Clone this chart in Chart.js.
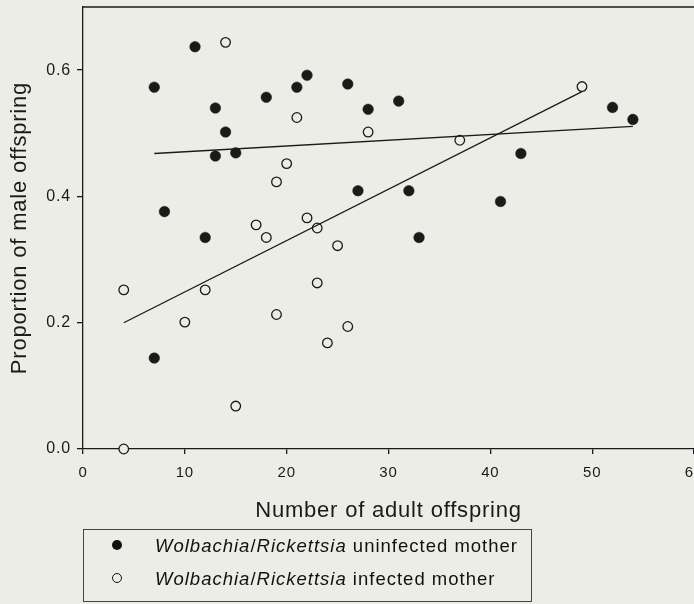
<!DOCTYPE html>
<html>
<head>
<meta charset="utf-8">
<script src="https://cdn.jsdelivr.net/npm/chart.js@4"></script>
<style>
  body { margin: 0; background: #ededE7; font-family: "Liberation Sans", Arial, sans-serif; }
  #wrap { position: relative; width: 694px; height: 604px; }
  #legend {
    position: absolute; left: 83px; top: 529px; width: 449px; height: 73px;
    border: 1px solid #444; box-sizing: border-box; font-size: 18.5px; letter-spacing: 1px; color: #111;
  }
  .row { position: absolute; left: 0; height: 22px; line-height: 22px; white-space: nowrap; }
  .mk { position: absolute; left: 28px; top: 5px; width: 10px; height: 10px; border-radius: 50%; box-sizing: border-box; }
  .row span.txt { position: absolute; left: 71px; }
</style>
</head>
<body>
<div id="wrap">
  <canvas id="chart" width="694" height="604"></canvas>
  <div id="legend">
    <div class="row" style="top:5px"><div class="mk" style="background:#111"></div><span class="txt"><i>Wolbachia</i>/<i>Rickettsia</i> uninfected mother</span></div>
    <div class="row" style="top:38px"><div class="mk" style="border:1.3px solid #111"></div><span class="txt"><i>Wolbachia</i>/<i>Rickettsia</i> infected mother</span></div>
  </div>
</div>
<script>
// uninfected mothers (filled dots)
const uninfX = [7, 11, 13, 14, 13, 15, 8, 12, 18, 21, 22, 26, 28, 31, 27, 32, 33, 43, 41, 52, 54, 7];
const uninfY = [0.573, 0.637, 0.540, 0.502, 0.464, 0.469, 0.376, 0.335, 0.557, 0.573, 0.592, 0.578,
                0.538, 0.551, 0.409, 0.409, 0.335, 0.468, 0.392, 0.541, 0.522, 0.144];
// infected mothers (open dots)
const infX = [14, 21, 20, 19, 17, 18, 22, 23, 25, 28, 37, 49, 4, 12, 10, 19, 23, 26, 24, 15, 4];
const infY = [0.644, 0.525, 0.452, 0.423, 0.355, 0.335, 0.366, 0.350, 0.322, 0.502, 0.489, 0.574,
              0.252, 0.252, 0.201, 0.213, 0.263, 0.194, 0.168, 0.068, 0.0];
// regression lines (end points)
const fitUninfX = [7, 54];
const fitUninfY = [0.468, 0.511];
const fitInfX = [4, 49];
const fitInfY = [0.200, 0.566];

const xTicks = [0, 10, 20, 30, 40, 50, 60];
const yTicks = [0.0, 0.2, 0.4, 0.6];

const bg = '#ededE7';
const ink = '#1a1a1a';

function pts(xs, ys) {
  return xs.map(function(x, i) { return {x: x, y: ys[i]} });
}

const frame = {
  id: 'frame',
  beforeUpdate: function(chart) {
    chart.ctx.letterSpacing = '0.8px';
  },
  beforeDraw: function(chart) {
    let c = chart.ctx;
    c.letterSpacing = '0.8px';
    c.save();
    c.fillStyle = bg;
    c.fillRect(0, 0, chart.width, chart.height);
    c.restore();
  },
  afterDraw: function(chart) {
    let c = chart.ctx, a = chart.chartArea;
    c.save();
    c.strokeStyle = ink;
    c.lineWidth = 1.3;
    c.beginPath();
    c.moveTo(a.left, a.top);
    c.lineTo(chart.width, a.top);
    c.stroke();
    c.restore();
  }
};

const ctx = document.getElementById('chart').getContext('2d');
new Chart(ctx, {
  type: 'scatter',
  data: {
    datasets: [
      {
        type: 'line', data: pts(fitUninfX, fitUninfY), borderColor: ink, borderWidth: 1.3,
        pointRadius: 0, fill: false, clip: false
      },
      {
        type: 'line', data: pts(fitInfX, fitInfY), borderColor: ink, borderWidth: 1.3,
        pointRadius: 0, fill: false, clip: false
      },
      {
        data: pts(uninfX, uninfY), pointRadius: 5.3, pointBackgroundColor: ink,
        pointBorderColor: ink, pointBorderWidth: 0.5, clip: false
      },
      {
        data: pts(infX, infY), pointRadius: 4.8, pointBackgroundColor: bg,
        pointBorderColor: ink, pointBorderWidth: 1.3, clip: false
      }
    ]
  },
  options: {
    responsive: false,
    animation: false,
    events: [],
    layout: { autoPadding: false, padding: { top: 7, right: 0, bottom: 74, left: 0 } },
    plugins: { legend: { display: false }, tooltip: { enabled: false } },
    scales: {
      x: {
        type: 'linear', min: 0, max: 60,
        afterBuildTicks: function(s) { s.ticks = xTicks.map(function(v) { return {value: v} }) },
        afterFit: function(s) { s.height = 81; s.paddingLeft = 0; s.paddingRight = 0 },
        grid: { drawOnChartArea: false, drawTicks: true, tickLength: 5, color: ink, lineWidth: 1.3 },
        border: { display: true, color: ink, width: 1.3 },
        ticks: { color: ink, padding: 10, maxRotation: 0, font: { family: 'Liberation Sans', size: 15 } },
        title: {
          display: true, text: 'Number of adult offspring', color: ink,
          font: { family: 'Liberation Sans', size: 22 }, padding: { top: 0, bottom: 6 }
        }
      },
      y: {
        type: 'linear', min: 0, max: 0.70,
        afterBuildTicks: function(s) { s.ticks = yTicks.map(function(v) { return {value: v} }) },
        afterFit: function(s) { s.width = 83; s.paddingTop = 0; s.paddingBottom = 0 },
        grid: { drawOnChartArea: false, drawTicks: true, tickLength: 6, color: ink, lineWidth: 1.3 },
        border: { display: true, color: ink, width: 1.3 },
        ticks: {
          color: ink, padding: 6, font: { family: 'Liberation Sans', size: 16 },
          callback: function(v) { return v.toFixed(1) }
        },
        title: {
          display: true, text: 'Proportion of male offspring', color: ink,
          font: { family: 'Liberation Sans', size: 22 }, padding: { top: 7, bottom: 0 }
        }
      }
    }
  },
  plugins: [frame]
});
</script>
</body>
</html>
